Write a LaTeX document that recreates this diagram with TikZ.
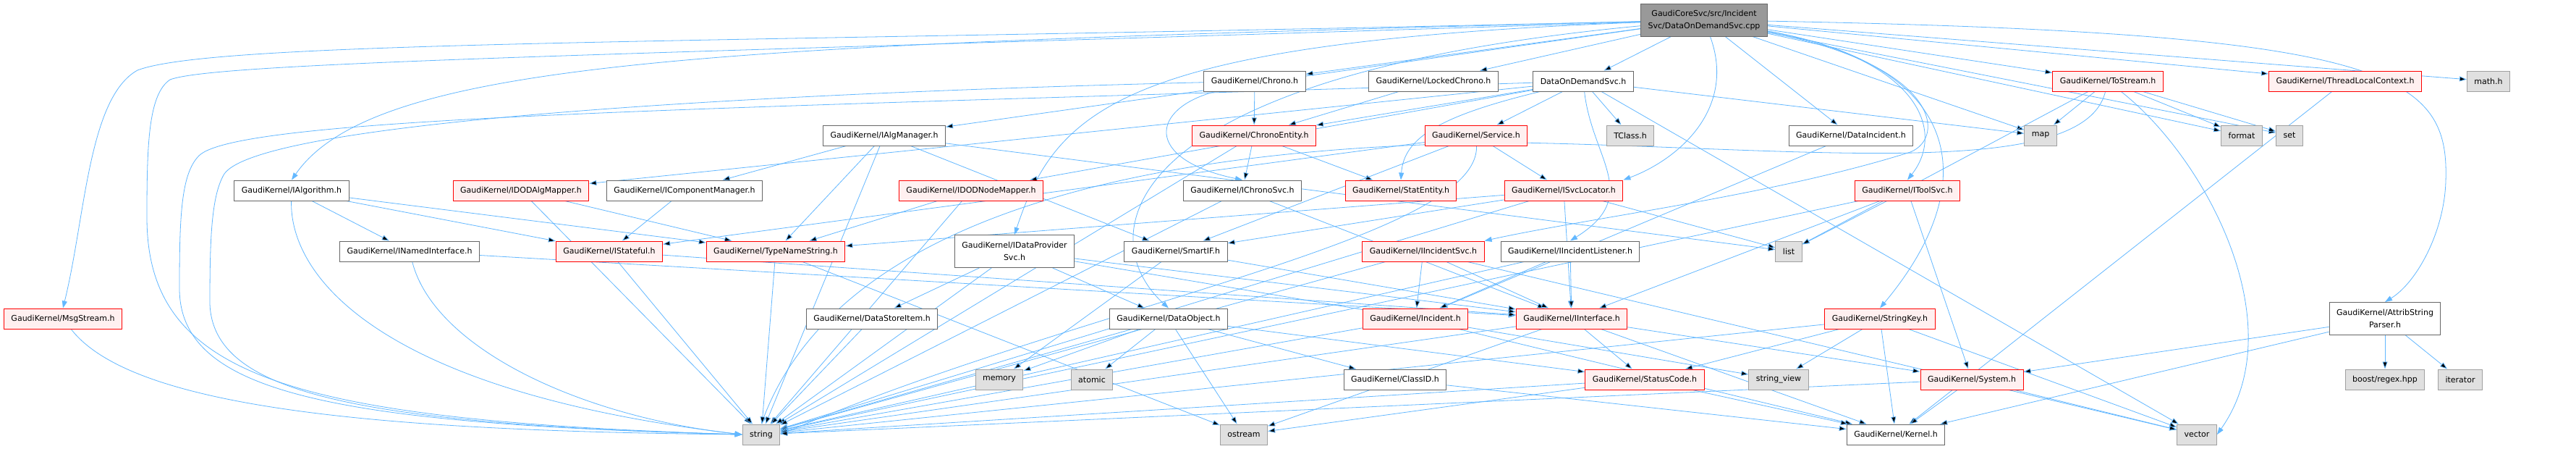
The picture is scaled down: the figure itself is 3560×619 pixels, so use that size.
\documentclass[tikz,border=0pt]{standalone}
\usepackage{fontspec}
\setmainfont{DejaVu Sans}
\usetikzlibrary{arrows.meta,backgrounds}
\definecolor{edgeblue}{HTML}{63B8FF}
\definecolor{boxgray}{HTML}{666666}
\definecolor{extgray}{HTML}{A0A0A0}
\definecolor{extfill}{HTML}{E0E0E0}
\definecolor{truncfill}{HTML}{FFF0F0}
\definecolor{topfill}{HTML}{999999}

\begin{document}
\begin{tikzpicture}[x=1pt, y=-1pt, >={Triangle[length=10pt,width=7pt]},
  every node/.style={font=\fontsize{11}{17}\selectfont},
  hdr/.style={draw=boxgray, fill=white, line width=1pt, minimum height=28pt,
              inner xsep=10pt, inner ysep=2pt, align=center},
  trunc/.style={hdr, draw=red, fill=truncfill},
  ext/.style={hdr, draw=extgray, fill=extfill},
  topfile/.style={hdr, fill=topfill, minimum height=45pt},
  dep/.style={draw=edgeblue, line width=0.8pt, ->}]
  \useasboundingbox (0,0) rectangle (3560,619);
  % Root file
  \node[topfile] (main) at (2355,27.5) {GaudiCoreSvc/src/Incident\\Svc/DataOnDemandSvc.cpp};
  % Row 1
  \node[hdr]   (chrono)       at (1734,112) {GaudiKernel/Chrono.h};
  \node[hdr]   (lockedchrono) at (1981,112) {GaudiKernel/LockedChrono.h};
  \node[hdr]   (dodsvch)      at (2188,112) {DataOnDemandSvc.h};
  \node[trunc] (tostream)     at (2913,112) {GaudiKernel/ToStream.h};
  \node[trunc] (tlc)          at (3241,112) {GaudiKernel/ThreadLocalContext.h};
  \node[ext]   (mathh)        at (3439,112) {math.h};
  % Row 2
  \node[hdr]   (ialgmgr)      at (1222,187) {GaudiKernel/IAlgManager.h};
  \node[trunc] (chronoent)    at (1733,187) {GaudiKernel/ChronoEntity.h};
  \node[trunc] (service)      at (2040,187) {GaudiKernel/Service.h};
  \node[ext]   (tclass)       at (2253,187) {TClass.h};
  \node[hdr]   (dataincident) at (2558,187) {GaudiKernel/DataIncident.h};
  \node[ext]   (map)          at (2820,187) {map};
  \node[ext]   (format)       at (3098,187) {format};
  \node[ext]   (set)          at (3164,187) {set};
  % Row 3
  \node[hdr]   (ialgorithm)   at (403,263)  {GaudiKernel/IAlgorithm.h};
  \node[trunc] (idodalg)      at (720,263)  {GaudiKernel/IDODAlgMapper.h};
  \node[hdr]   (icompmgr)     at (946,263)  {GaudiKernel/IComponentManager.h};
  \node[trunc] (idodnode)     at (1342,263) {GaudiKernel/IDODNodeMapper.h};
  \node[hdr]   (ichronosvc)   at (1717,263) {GaudiKernel/IChronoSvc.h};
  \node[trunc] (statentity)   at (1936,263) {GaudiKernel/StatEntity.h};
  \node[trunc] (isvcloc)      at (2161,263) {GaudiKernel/ISvcLocator.h};
  \node[trunc] (itoolsvc)     at (2636,263) {GaudiKernel/IToolSvc.h};
  % Row 4
  \node[hdr]   (inamed)       at (566,347)  {GaudiKernel/INamedInterface.h};
  \node[trunc] (istateful)    at (842,347)  {GaudiKernel/IStateful.h};
  \node[trunc] (typename)     at (1072,347) {GaudiKernel/TypeNameString.h};
  \node[hdr, minimum height=45pt] (idataprov) at (1402,347) {GaudiKernel/IDataProvider\\Svc.h};
  \node[hdr]   (smartif)      at (1625,347) {GaudiKernel/SmartIF.h};
  \node[trunc] (iincsvc)      at (1967,347) {GaudiKernel/IIncidentSvc.h};
  \node[hdr]   (iinclistener) at (2170,347) {GaudiKernel/IIncidentListener.h};
  \node[ext]   (list)         at (2472,347) {list};
  % Row 5
  \node[trunc] (msgstream)    at (87,440)   {GaudiKernel/MsgStream.h};
  \node[hdr]   (datastoreitem) at (1205,440) {GaudiKernel/DataStoreItem.h};
  \node[hdr]   (dataobject)   at (1615,440) {GaudiKernel/DataObject.h};
  \node[trunc] (incident)     at (1956,440) {GaudiKernel/Incident.h};
  \node[trunc] (iinterface)   at (2172,440) {GaudiKernel/IInterface.h};
  \node[trunc] (stringkey)    at (2598,440) {GaudiKernel/StringKey.h};
  \node[hdr, minimum height=45pt] (attrib) at (3296,440) {GaudiKernel/AttribString\\Parser.h};
  % Row 6
  \node[ext]   (memory)       at (1381,524) {memory};
  \node[ext]   (atomic)       at (1509,524) {atomic};
  \node[hdr]   (classid)      at (1928,524) {GaudiKernel/ClassID.h};
  \node[trunc] (statuscode)   at (2273,524) {GaudiKernel/StatusCode.h};
  \node[ext]   (stringview)   at (2458,524) {string\_view};
  \node[trunc] (system)       at (2725,524) {GaudiKernel/System.h};
  \node[ext]   (regex)        at (3296,524) {boost/regex.hpp};
  \node[ext]   (iterator)     at (3400,524) {iterator};
  % Row 7
  \node[ext]   (string)       at (1052,600) {string};
  \node[ext]   (ostream)      at (1719,600) {ostream};
  \node[hdr]   (kernel)       at (2620,600) {GaudiKernel/Kernel.h};
  \node[ext]   (vector)       at (3036,600) {vector};

  \begin{scope}[on background layer]
  \fill[white] (0,0) rectangle (3560,619);
  % Includes of the root file
  \draw[dep] (main) edge (chrono) edge (lockedchrono) edge (dodsvch)
    edge (tostream) edge (tlc) edge (mathh) edge (map) edge (format)
    edge (set) edge (dataincident) edge (ialgmgr);
  \draw[dep] (main) .. controls (1000,60) and (300,55) .. (190,97)
    .. controls (122,135) and (118,300) .. (msgstream.north);
  \draw[dep] (main) .. controls (900,75) and (300,85) .. (235,110)
    .. controls (205,130) and (203,200) .. (203,300)
    .. controls (203,520) and (400,580) .. (string.west);
  \draw[dep] (main) .. controls (1000,62) and (520,80) .. (ialgorithm.north);
  \draw[dep] (main) .. controls (1550,58) and (1460,150) .. (idataprov.north);
  \draw[dep] (main) .. controls (1530,105) and (1510,330) .. (dataobject.north);
  \draw[dep] (main) .. controls (2400,150) and (2320,220) .. (isvcloc.north east);
  \draw[dep] (main) .. controls (2650,80) and (2690,180) .. (itoolsvc.north);
  \draw[dep] (main) .. controls (2680,90) and (2690,190) .. (2640,210)
    .. controls (2450,270) and (2200,300) .. (iincsvc.north east);
  \draw[dep] (main) .. controls (2710,90) and (2745,250) .. (stringkey.north);
  \draw[dep] (main) .. controls (3300,45) and (3385,100) .. (3380,250)
    .. controls (3378,320) and (3340,390) .. (attrib.north);
  % DataOnDemandSvc.h
  \draw[dep] (dodsvch) edge (chronoent) edge (service) edge (tclass)
    edge (idodalg) edge (idodnode) edge (map) edge (vector);
  \draw[dep] (dodsvch) .. controls (1990,160) and (1940,190) .. (statentity.north);
  \draw[dep] (dodsvch) .. controls (2200,220) and (2270,270) .. (iinclistener.north);
  \draw[dep] (dodsvch) .. controls (1000,150) and (330,160) .. (275,215)
    .. controls (250,240) and (248,300) .. (248,400)
    .. controls (250,540) and (450,585) .. (string.west);
  % Chrono headers
  \draw[dep] (chrono) edge (chronoent);
  \draw[dep] (chrono) .. controls (1590,150) and (1580,220) .. (ichronosvc.north);
  \draw[dep] (chrono) .. controls (1000,130) and (360,170) .. (310,240)
    .. controls (292,270) and (290,330) .. (290,420)
    .. controls (295,540) and (480,585) .. (string.west);
  \draw[dep] (lockedchrono) edge (chronoent);
  \draw[dep] (chronoent) edge (statentity) edge (ichronosvc) edge (string);
  \draw[dep] (ichronosvc) edge (iinterface) edge (string);
  % Services and tools
  \draw[dep] (service) edge (isvcloc) edge (istateful) edge (smartif);
  \draw[dep] (service) .. controls (2045,330) and (1500,420) .. (string.east);
  \draw[dep] (isvcloc) edge (typename) edge (iinterface) edge (smartif)
    edge (list) edge (string);
  \draw[dep] (itoolsvc) edge (list) edge (iinterface) edge (system) edge (string);
  \draw[dep] (tostream) edge (map) edge (format) edge (set) edge (list);
  \draw[dep] (tostream) .. controls (3050,220) and (3170,450) .. (vector.east);
  \draw[dep] (tostream) .. controls (2880,250) and (2500,205) .. (2100,197)
    .. controls (1500,200) and (1150,330) .. (string.north);
  \draw[dep] (tlc) edge (kernel);
  \draw[dep] (attrib) edge (system) edge (kernel) edge (regex) edge (iterator);
  \draw[dep] (dataincident) edge (incident);
  % Algorithm side
  \draw[dep] (ialgmgr) edge (icompmgr) edge (typename) edge (smartif)
    edge (list) edge (string);
  \draw[dep] (ialgorithm) edge (inamed) edge (istateful) edge (typename);
  \draw[dep] (ialgorithm) .. controls (400,380) and (520,540) .. (string.west);
  \draw[dep] (idodalg) edge (typename) edge (string);
  \draw[dep] (idodnode) edge (typename) edge (string);
  \draw[dep] (icompmgr) edge (istateful);
  \draw[dep] (inamed) edge (iinterface);
  \draw[dep] (inamed) .. controls (600,480) and (800,575) .. (string.west);
  \draw[dep] (istateful) edge (iinterface) edge (string);
  \draw[dep] (typename) edge (string) edge (ostream);
  \draw[dep] (msgstream) .. controls (180,560) and (500,595) .. (string.west);
  % Data store
  \draw[dep] (idataprov) edge (datastoreitem) edge (dataobject) edge (iinterface)
    edge (stringview) edge (string);
  \draw[dep] (smartif) edge (iinterface) edge (memory);
  \draw[dep] (dataobject) edge (memory) edge (atomic) edge (ostream)
    edge (string) edge (classid) edge (statuscode);
  \draw[dep] (datastoreitem) edge (string);
  % Incidents and interfaces
  \draw[dep] (iincsvc) edge (incident) edge (iinterface) edge (string) edge (vector);
  \draw[dep] (iinclistener) edge (iinterface) edge (incident) edge (string);
  \draw[dep] (incident) edge (string) edge (kernel);
  \draw[dep] (iinterface) edge (statuscode) edge (system) edge (kernel)
    edge (string) edge (ostream);
  \draw[dep] (statuscode) edge (string) edge (kernel) edge (ostream);
  \draw[dep] (classid) edge (kernel);
  \draw[dep] (stringkey) edge (statuscode) edge (stringview) edge (string)
    edge (kernel) edge (vector);
  \draw[dep] (system) edge (kernel) edge (vector) edge (string);
  \end{scope}
\end{tikzpicture}
\end{document}
